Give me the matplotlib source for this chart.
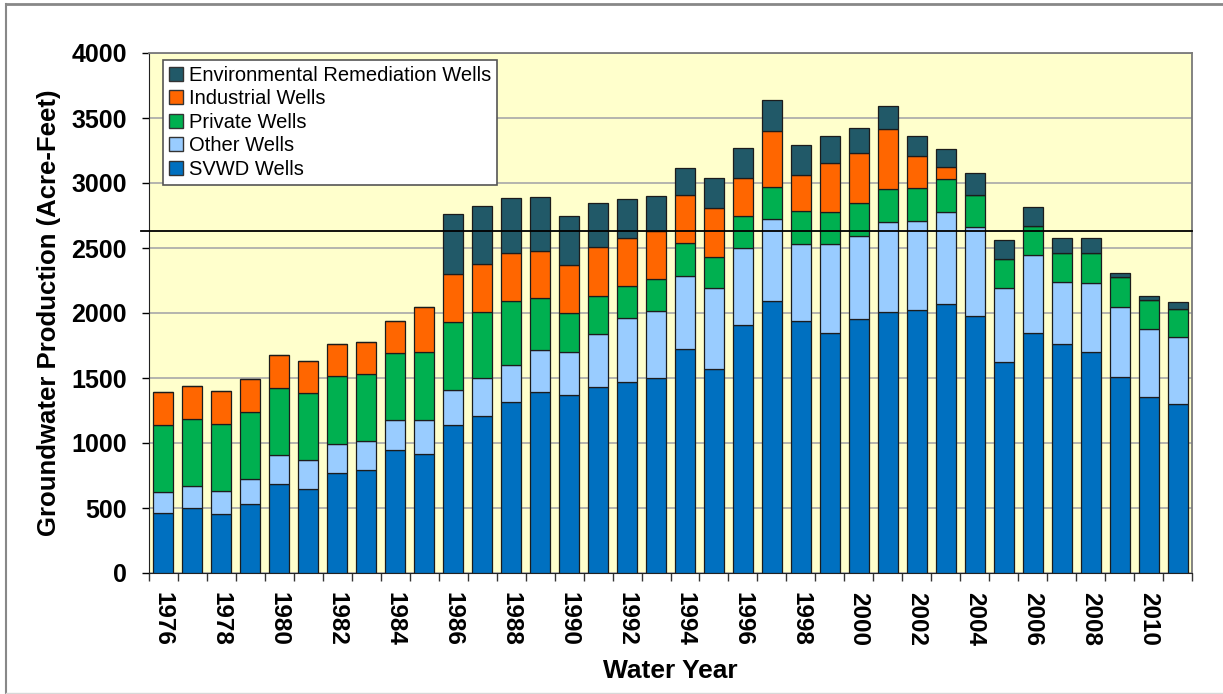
import numpy as np
import matplotlib
matplotlib.use("Agg")
from matplotlib import pyplot as plt
from matplotlib.lines import Line2D

plt.rcParams['font.family'] = ['Liberation Sans', 'DejaVu Sans']

years = list(range(1976, 2012))

# cumulative tops of each stacked layer (acre-feet)
svwd = [461, 500, 454, 531, 687, 646, 772, 792, 949, 915,
        1138, 1208, 1313, 1395, 1369, 1428, 1472, 1497, 1723, 1567,
        1910, 2092, 1941, 1849, 1954, 2005, 2023, 2072, 1977, 1620,
        1844, 1761, 1697, 1510, 1356, 1300]
other_top = [626, 667, 633, 723, 905, 867, 992, 1013, 1177, 1177,
             1408, 1497, 1603, 1715, 1697, 1838, 1964, 2013, 2285, 2190,
             2497, 2726, 2531, 2527, 2592, 2700, 2710, 2779, 2664, 2195,
             2446, 2236, 2233, 2049, 1874, 1813]
private_top = [1141, 1185, 1149, 1236, 1426, 1382, 1513, 1528, 1690, 1697,
               1931, 2008, 2093, 2113, 1997, 2131, 2210, 2259, 2536, 2433,
               2747, 2970, 2785, 2775, 2843, 2951, 2959, 3028, 2910, 2418,
               2669, 2459, 2459, 2274, 2100, 2033]
ind_top = [1390, 1436, 1402, 1490, 1677, 1631, 1761, 1777, 1941, 2044,
           2297, 2379, 2460, 2479, 2372, 2505, 2574, 2630, 2910, 2810,
           3036, 3400, 3062, 3152, 3228, 3415, 3210, 3120, 2910, 2418,
           2669, 2459, 2459, 2274, 2100, 2033]
env_top = [1390, 1436, 1402, 1490, 1677, 1631, 1761, 1777, 1941, 2044,
           2764, 2820, 2885, 2890, 2744, 2846, 2877, 2900, 3117, 3037,
           3269, 3638, 3292, 3363, 3423, 3592, 3364, 3259, 3074, 2561,
           2815, 2579, 2579, 2310, 2131, 2085]
ref_level = 2630

svwd = np.array(svwd)
other = np.array(other_top) - np.array(svwd)
private = np.array(private_top) - np.array(other_top)
industrial = np.array(ind_top) - np.array(private_top)
environ = np.array(env_top) - np.array(ind_top)

layers = [
    ("SVWD Wells", svwd, "#0070C0"),
    ("Other Wells", other, "#99CCFF"),
    ("Private Wells", private, "#00B050"),
    ("Industrial Wells", industrial, "#FF6600"),
    ("Environmental Remediation Wells", environ, "#215968"),
]

fig = plt.figure(figsize=(12.23, 6.94), dpi=100)
ax = fig.add_axes([149 / 1223, 1 - 573 / 694, 1043 / 1223, 520 / 694])
ax.set_facecolor("#FFFFCC")

x = np.arange(len(years))
bottom = np.zeros(len(years))
handles = []
for name, vals, col in layers:
    ax.bar(x, vals, bottom=bottom, width=0.69, color=col,
           edgecolor="#1c1c1c", linewidth=0.9, zorder=3)
    bottom = bottom + vals
    handles.append(plt.Rectangle((0, 0), 1, 1, facecolor=col,
                                 edgecolor="#333333", linewidth=1))

ax.axhline(ref_level, xmin=-0.008, xmax=1.0, color="black", lw=1.3,
           zorder=4, clip_on=False)

ax.set_xlim(-0.5, len(years) - 0.5)
ax.set_ylim(0, 4000)
ax.set_yticks(np.arange(0, 4001, 500))
ax.yaxis.grid(True, color="#A8A8A8", lw=1.2, zorder=0)
ax.set_axisbelow(True)

ax.set_xticks(x[::2])
ax.set_xticklabels([str(y) for y in years[::2]], rotation=270,
                   fontsize=17.5, fontweight="bold")
ax.set_xticks(np.arange(-0.5, len(years), 1), minor=True)
ax.tick_params(axis="x", which="major", length=0, pad=14)
ax.tick_params(axis="x", which="minor", length=6, width=1, color="#333333")
ax.tick_params(axis="y", length=5, width=1, pad=11, labelsize=18)
for lab in ax.get_yticklabels():
    lab.set_fontweight("bold")

for s in ["top", "right"]:
    ax.spines[s].set_color("#7a7a7a")
    ax.spines[s].set_linewidth(1.3)
ax.spines["left"].set_color("#222222")
ax.spines["bottom"].set_color("#222222")

ax.set_ylabel("Groundwater Production (Acre-Feet)", fontsize=18.5,
              fontweight="bold", labelpad=7)
ax.set_xlabel("Water Year", fontsize=19, fontweight="bold", labelpad=9)

leg = ax.legend(handles[::-1], [l[0] for l in layers][::-1],
                loc="upper left", bbox_to_anchor=(0.0134, 0.9865),
                borderaxespad=0, fontsize=14.5, handlelength=0.7,
                handleheight=0.7, handletextpad=0.3, labelspacing=0.22,
                borderpad=0.3, fancybox=False, framealpha=1)
leg.get_frame().set_edgecolor("#555555")
leg.get_frame().set_linewidth(1.2)
leg.set_zorder(5)

# outer frame of the figure
fig.add_artist(Line2D([6 / 1223, 1], [1 - 4 / 694, 1 - 4 / 694],
                      color="#888888", lw=2, transform=fig.transFigure))
fig.add_artist(Line2D([6 / 1223, 6 / 1223], [0, 1 - 4 / 694],
                      color="#888888", lw=1.5, transform=fig.transFigure))
fig.add_artist(Line2D([6 / 1223, 1], [1 / 694, 1 / 694],
                      color="#d8d8d8", lw=1, transform=fig.transFigure))

fig.savefig("out.png", dpi=100)
